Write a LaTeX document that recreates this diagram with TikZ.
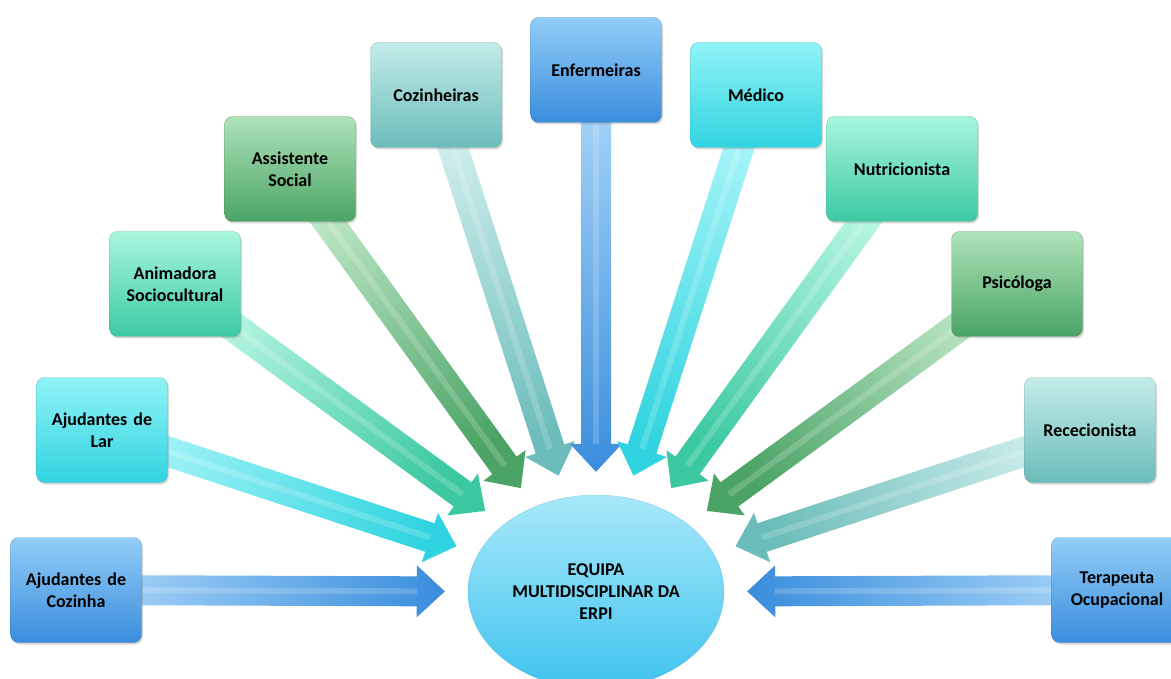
\documentclass[tikz,border=0pt]{standalone}
\usepackage{fontspec}
\setmainfont{Carlito}[BoldFont={Carlito Bold}]
\usepackage{tikz}
\usetikzlibrary{calc,shapes.geometric,shadows}

\pgfdeclarelayer{background}
\pgfsetlayers{background,main}

\definecolor{azulcl}{HTML}{93CDF8}
\definecolor{azulesc}{HTML}{3A8DDC}
\definecolor{cianocl}{HTML}{90F3F7}
\definecolor{cianoesc}{HTML}{30D4E0}
\definecolor{turquesacl}{HTML}{A8F6DE}
\definecolor{turquesaesc}{HTML}{3CC9A2}
\definecolor{verdecl}{HTML}{AEE3B8}
\definecolor{verdeesc}{HTML}{4BA466}
\definecolor{petroleocl}{HTML}{C4ECE9}
\definecolor{petroleoesc}{HTML}{6BBCBA}
\definecolor{elipsecl}{HTML}{A9E8FA}
\definecolor{elipseesc}{HTML}{3EC3EE}

% block arrow: #1 box, #2 target node, #3 colour
\newcommand\seta[3]{%
  \path (#1.center) -- (#2) coordinate[pos=1] (b-#1);
  \coordinate (t-#1) at ($(b-#1)!23pt!(#1.center)$);
  \coordinate (h-#1) at ($(t-#1)!28pt!(#1.center)$);
  \path let \p1=($(t-#1)-(#1.center)$), \n1={atan2(\y1,\x1)+90} in
    \pgfextra{\xdef\angseta{\n1}};
  \shade[top color=#3cl!75!white, bottom color=#3esc, shading angle=\angseta]
    ($(#1.center)!15pt!90:(t-#1)$) -- ($(h-#1)!15pt!90:(t-#1)$)
    -- ($(h-#1)!26pt!90:(t-#1)$) -- (t-#1)
    -- ($(h-#1)!26pt!-90:(t-#1)$) -- ($(h-#1)!15pt!-90:(t-#1)$)
    -- ($(#1.center)!15pt!-90:(t-#1)$) -- cycle;
  \draw[white, opacity=.18, line width=6pt] (#1.center) -- (h-#1);
}

\begin{document}
\begin{tikzpicture}[x=1pt,y=-1pt]
\tikzset{
  caixa/.style={rectangle, rounded corners=8pt, minimum width=131pt, minimum height=105pt,
    inner sep=2pt, text width=127pt, align=center,
    font=\bfseries\fontsize{18}{22}\selectfont,
    top color=#1cl, bottom color=#1esc, draw=#1esc!75!black, draw opacity=.5,
    drop shadow={opacity=.3, shadow xshift=1.5pt, shadow yshift=-2pt}},
  equipa/.style={ellipse, minimum width=256pt, minimum height=194pt, align=center,
    font=\bfseries\fontsize{18}{22}\selectfont,
    top color=elipsecl, bottom color=elipseesc, draw=elipseesc!85!black, draw opacity=.4}
}
\useasboundingbox (0,0) rectangle (1171,679);

\node[caixa=azul] (cozinha) at (76,590) {Ajudantes de\\Cozinha};
\node[caixa=ciano] (lar) at (102,430) {Ajudantes de\\Lar};
\node[caixa=turquesa] (animadora) at (175,284) {Animadora\\Sociocultural};
\node[caixa=verde] (social) at (290,169) {Assistente\\Social};
\node[caixa=petroleo] (cozinheiras) at (436,95) {Cozinheiras};
\node[caixa=azul] (enfermeiras) at (596,70) {Enfermeiras};
\node[caixa=ciano] (medico) at (756,95) {Médico};
\node[caixa=turquesa, minimum width=151pt] (nutri) at (902,169) {Nutricionista};
\node[caixa=verde] (psicologa) at (1017,284) {Psicóloga};
\node[caixa=petroleo] (rececao) at (1090,430) {Rececionista};
\node[caixa=azul] (terapeuta) at (1117,590) {Terapeuta\\Ocupacional};

\node[equipa] (erpi) at (596,592) {EQUIPA\\MULTIDISCIPLINAR DA\\ERPI};

\begin{pgfonlayer}{background}
\fill[white] (0,0) rectangle (1171,679);
\seta{cozinha}{erpi}{azul}
\seta{lar}{erpi}{ciano}
\seta{animadora}{erpi}{turquesa}
\seta{social}{erpi}{verde}
\seta{cozinheiras}{erpi}{petroleo}
\seta{enfermeiras}{erpi}{azul}
\seta{medico}{erpi}{ciano}
\seta{nutri}{erpi}{turquesa}
\seta{psicologa}{erpi}{verde}
\seta{rececao}{erpi}{petroleo}
\seta{terapeuta}{erpi}{azul}
\end{pgfonlayer}
\end{tikzpicture}
\end{document}
